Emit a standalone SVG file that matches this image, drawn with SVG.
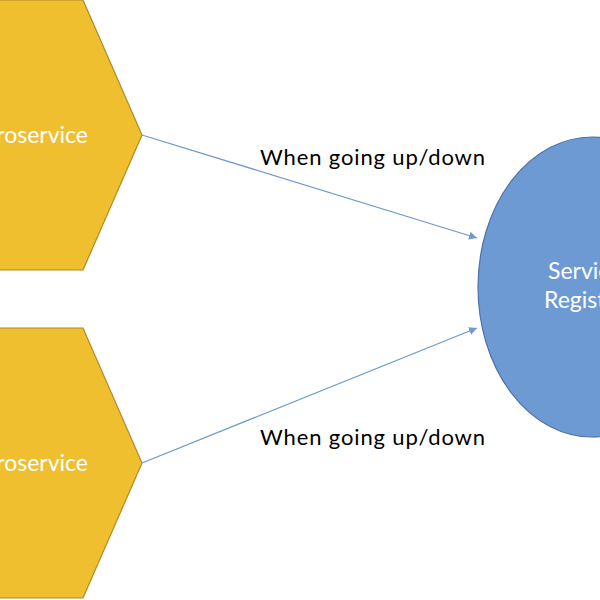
<svg xmlns="http://www.w3.org/2000/svg" width="600" height="600" viewBox="0 0 600 600">
<style>
.hex{fill:#F0BF2F;stroke:#B08A2B;stroke-width:1.2}
.reg{fill:#6E9AD3;stroke:#4C72A6;stroke-width:1.2}
.wt{fill:#ffffff;font-family:Lato,"Open Sans",sans-serif;font-size:23px}
.lbl{fill:#000000;font-family:Lato,"Open Sans",sans-serif;font-size:22px}
.conn{stroke:#6F99CF;stroke-width:1.3;fill:none;marker-end:url(#ah)}
</style>
<defs>
<marker id="ah" viewBox="0 0 10 10" refX="10" refY="5" markerWidth="8" markerHeight="8" markerUnits="userSpaceOnUse" orient="auto">
<path d="M0,0 L10,5 L0,10 z" fill="#6F99CF"/>
</marker>
</defs>
<rect width="600" height="600" fill="#ffffff"/>
<g id="microservice1">
<polygon class="hex" points="-60,0 83,0 142,135 83,270 -60,270"/>
<text class="wt" x="88" y="143" text-anchor="end">Microservice</text>
</g>
<g id="microservice2">
<polygon class="hex" points="-60,328 83,328 142,463 83,598 -60,598"/>
<text class="wt" x="88" y="471" text-anchor="end">Microservice</text>
</g>
<g id="registry">
<ellipse class="reg" cx="592" cy="287" rx="114" ry="150"/>
<text class="wt" x="548" y="279">Service</text>
<text class="wt" x="544" y="308">Registry</text>
</g>
<g id="connectors">
<line class="conn" x1="142" y1="135" x2="477" y2="238"/>
<line class="conn" x1="142" y1="463" x2="477" y2="328"/>
<text class="lbl" x="260" y="165" textLength="225">When going up/down</text>
<text class="lbl" x="260" y="445" textLength="225">When going up/down</text>
</g>
</svg>
